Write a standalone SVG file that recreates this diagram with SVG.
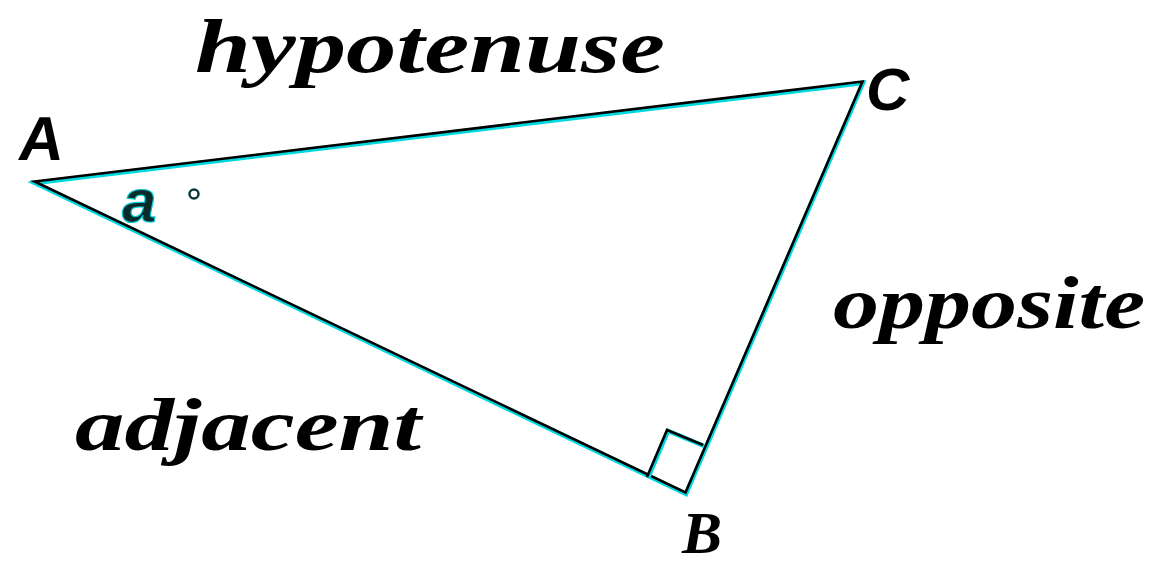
<svg xmlns="http://www.w3.org/2000/svg" width="1159" height="565" viewBox="0 0 1159 565">
<style>
.lbl{font-family:"Liberation Serif",serif;font-weight:bold;font-style:italic;fill:#000}
.vtx{font-family:"Liberation Sans",sans-serif;font-weight:bold;fill:#000}
.edge-c{stroke:#00d8e0;stroke-width:4.5;fill:none;stroke-linejoin:miter}
.edge-k{stroke:#000;stroke-width:2.6;fill:none;stroke-linejoin:miter}
</style>
<rect width="1159" height="565" fill="#fff"/>
<g id="connectors">
<polygon class="edge-c" points="35,183 863,83 686,494"/>
<polygon class="edge-k" points="35,182 863,82 686,493" transform="translate(-0.5,-0.5)"/>
<polyline class="edge-c" points="648,478 668,431 704,446"/>
<polyline class="edge-k" points="647,477 667,430 703,445"/>
</g>
<g id="node-A"><text class="vtx" x="17" y="160" font-size="62" transform="skewX(-8) translate(22,0)">A</text></g>
<g id="node-C"><text class="vtx" x="866" y="110" font-size="60" font-weight="normal" font-style="italic">C</text></g>
<g id="node-B"><text class="lbl" x="682" y="553" font-size="60">B</text></g>
<g id="angle"><text x="122" y="222" font-family="Liberation Sans,sans-serif" font-weight="bold" font-style="italic" font-size="62" fill="#0b2a2a" stroke="#00c8d0" stroke-width="1.2">a</text><circle cx="194" cy="194" r="4.5" fill="none" stroke="#0b3a3a" stroke-width="2.5"/></g>
<g id="label-hypotenuse"><text class="lbl" x="195" y="72" font-size="76" textLength="470" lengthAdjust="spacingAndGlyphs">hypotenuse</text></g>
<g id="label-opposite"><text class="lbl" x="833" y="328" font-size="74" textLength="312" lengthAdjust="spacingAndGlyphs">opposite</text></g>
<g id="label-adjacent"><text class="lbl" x="75" y="450" font-size="74" textLength="346" lengthAdjust="spacingAndGlyphs">adjacent</text></g>
</svg>
